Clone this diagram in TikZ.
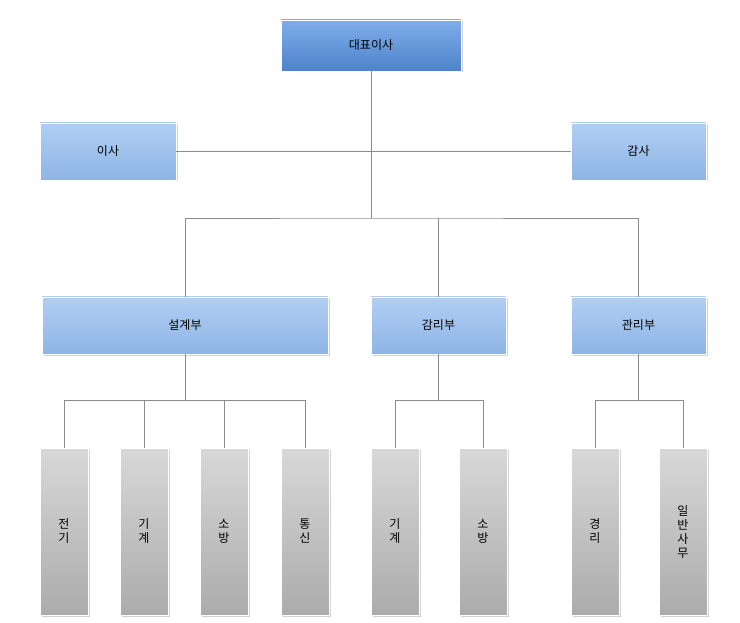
\documentclass[tikz,border=0pt]{standalone}
\usepackage{fontspec}
\newfontfamily\kr{Noto Sans CJK KR}
\usetikzlibrary{shadows}
\definecolor{topblue}{RGB}{86,146,226}
\definecolor{lightblue}{RGB}{150,190,240}
\definecolor{boxgray}{RGB}{190,190,190}
\tikzset{
  box/.style={draw=white,line width=0.6pt,inner sep=0pt,font=\kr\large,
    drop shadow={shadow xshift=1.5pt,shadow yshift=-1.5pt,opacity=0.35}},
  headbox/.style={box,top color=topblue!75,bottom color=topblue!90!black,
    minimum width=180pt,minimum height=51pt},
  unitbox/.style={box,top color=lightblue!75,bottom color=lightblue!95!black,
    minimum height=57pt},
  teambox/.style={box,top color=boxgray!60,bottom color=boxgray!90!black,
    minimum width=48pt,minimum height=167pt,align=center},
  link/.style={draw=black!45,line width=0.6pt}
}
\begin{document}
\begin{tikzpicture}[x=1pt,y=-1pt]
\useasboundingbox (0,0) rectangle (740,623);
%% top
\node[headbox] (ceo) at (371,45.5) {대표이사};
\node[unitbox,minimum width=136pt] (dir) at (108,151.5) {이사};
\node[unitbox,minimum width=135pt] (aud) at (638.5,151.5) {감사};
%% departments
\node[unitbox,minimum width=286pt] (design) at (185,325.5) {설계부};
\node[unitbox,minimum width=135pt] (super) at (438.5,325.5) {감리부};
\node[unitbox,minimum width=135pt] (admin) at (638.5,325.5) {관리부};
%% teams
\node[teambox] (t1) at (64,531.5) {전\\기};
\node[teambox] (t2) at (144,531.5) {기\\계};
\node[teambox] (t3) at (224,531.5) {소\\방};
\node[teambox] (t4) at (305,531.5) {통\\신};
\node[teambox] (t5) at (395,531.5) {기\\계};
\node[teambox] (t6) at (483,531.5) {소\\방};
\node[teambox] (t7) at (595,531.5) {경\\리};
\node[teambox] (t8) at (683,531.5) {일\\반\\사\\무};
%% connectors
\coordinate (hub) at (371,218);
\draw[link] (ceo.south) -- (hub);
\draw[link] (dir.east) -- (aud.west);
\draw[link] (design.north) |- (hub) -| (admin.north);
\draw[link] (super.north) -- (super.north |- hub);
\foreach \d/\a/\b in {design/t1/t4,super/t5/t6,admin/t7/t8}{
  \coordinate (\d bar) at ([yshift=-46pt]\d.south);
  \draw[link] (\d.south) -- (\d bar);
  \draw[link] (\a.north) |- (\d bar) -| (\b.north);
}
\foreach \t in {t2,t3}
  \draw[link] (\t.north) -- (\t.north |- designbar);
\end{tikzpicture}
\end{document}
